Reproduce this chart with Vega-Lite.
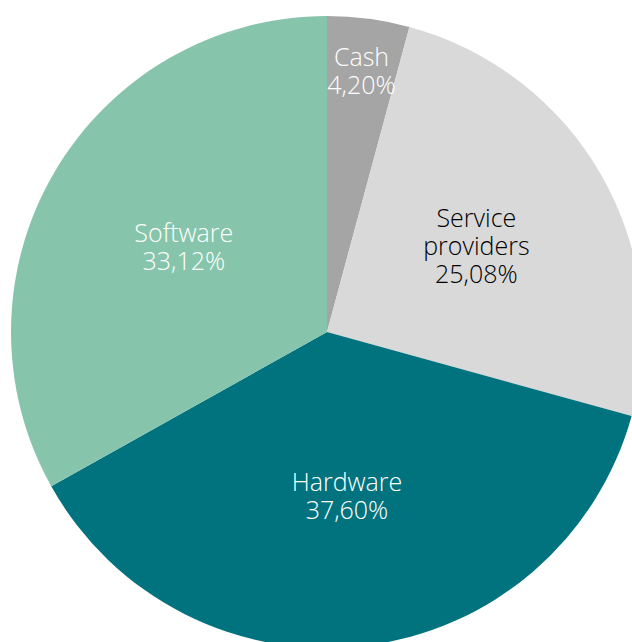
{
  "$schema": "https://vega.github.io/schema/vega-lite/v6.json",
  "width": 654,
  "height": 664,
  "autosize": {"type": "none"},
  "padding": 0,
  "background": "white",
  "config": {"view": {"stroke": null}},
  "data": {
    "values": [
      {"order": 1, "category": "Cash", "label": "Cash", "value": 4.20},
      {"order": 2, "category": "Service providers", "label": "Service\nproviders", "value": 25.08},
      {"order": 3, "category": "Hardware", "label": "Hardware", "value": 37.60},
      {"order": 4, "category": "Software", "label": "Software", "value": 33.12}
    ]
  },
  "transform": [
    {"calculate": "datum.label + '\\n' + replace(format(datum.value, '.2f'), '.', ',') + '%'", "as": "text"}
  ],
  "encoding": {
    "theta": {"field": "value", "type": "quantitative", "stack": true},
    "order": {"field": "order", "type": "ordinal"}
  },
  "layer": [
    {
      "mark": {"type": "arc", "outerRadius": 316},
      "encoding": {
        "color": {
          "field": "category",
          "type": "nominal",
          "scale": {
            "domain": ["Cash", "Service providers", "Hardware", "Software"],
            "range": ["#a5a5a5", "#d9d9d9", "#00737f", "#86c5ab"]
          },
          "legend": null
        }
      }
    },
    {
      "mark": {"type": "text", "radius": 166, "dy": -14, "font": "Open Sans", "fontWeight": 300, "fontSize": 25, "lineHeight": 28, "lineBreak": "\n", "align": "center", "baseline": "middle", "color": "#ffffff"},
      "encoding": {
        "text": {
          "condition": {"test": "datum.category === 'Hardware' || datum.category === 'Software'", "field": "text"},
          "value": ""
        }
      }
    },
    {
      "mark": {"type": "text", "radius": 172, "dy": -28, "font": "Open Sans", "fontWeight": 300, "fontSize": 25, "lineHeight": 28, "lineBreak": "\n", "align": "center", "baseline": "middle", "color": "#000000"},
      "encoding": {
        "text": {
          "condition": {"test": "datum.category === 'Service providers'", "field": "text"},
          "value": ""
        }
      }
    },
    {
      "mark": {"type": "text", "radius": 262, "dy": -14, "font": "Open Sans", "fontWeight": 300, "fontSize": 25, "lineHeight": 28, "lineBreak": "\n", "align": "center", "baseline": "middle", "color": "#ffffff"},
      "encoding": {
        "text": {
          "condition": {"test": "datum.category === 'Cash'", "field": "text"},
          "value": ""
        }
      }
    }
  ]
}
